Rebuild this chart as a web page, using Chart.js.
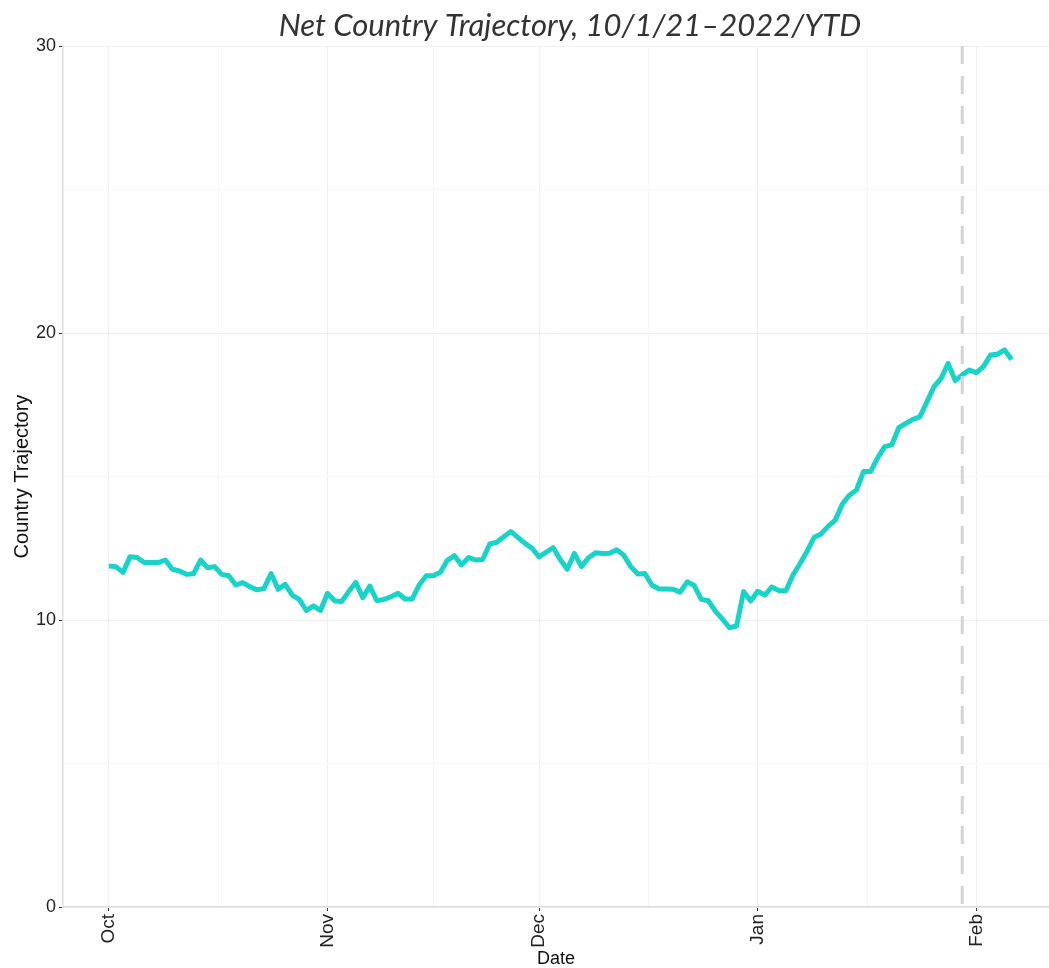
<!DOCTYPE html>
<html>
<head>
<meta charset="utf-8">
<script src="https://cdn.jsdelivr.net/npm/chart.js@4"></script>
<style>
  body { margin: 0; background: #fff; }
  #wrap { width: 1049px; height: 968px; position: relative; }
</style>
</head>
<body>
<div id="wrap"><canvas id="chart"></canvas></div>
<script>
// daily values, Oct 1 2021 (day 0) .. Feb 6 2022 (day 128)
const trajectory = [
  11.88, 11.86, 11.66, 12.20, 12.18, 12.00, 12.00, 12.00, 12.09, 11.77,
  11.71, 11.59, 11.61, 12.09, 11.82, 11.86, 11.59, 11.54, 11.22, 11.30,
  11.16, 11.05, 11.10, 11.62, 11.07, 11.24, 10.87, 10.72, 10.33, 10.49,
  10.33, 10.93, 10.67, 10.64, 10.99, 11.31, 10.78, 11.18, 10.67, 10.72,
  10.81, 10.93, 10.73, 10.73, 11.22, 11.54, 11.54, 11.66, 12.08, 12.24,
  11.92, 12.18, 12.09, 12.11, 12.65, 12.71, 12.90, 13.08, 12.88, 12.67,
  12.50, 12.20, 12.36, 12.52, 12.11, 11.77, 12.32, 11.86, 12.17, 12.34,
  12.32, 12.33, 12.45, 12.26, 11.86, 11.60, 11.62, 11.22, 11.08, 11.08,
  11.07, 10.97, 11.33, 11.20, 10.72, 10.67, 10.31, 10.03, 9.73, 9.79,
  10.99, 10.66, 11.00, 10.87, 11.15, 11.03, 11.02, 11.57, 11.97, 12.40,
  12.88, 13.00, 13.27, 13.48, 14.04, 14.35, 14.53, 15.17, 15.17, 15.65,
  16.04, 16.10, 16.70, 16.85, 16.99, 17.08, 17.61, 18.13, 18.42, 18.94,
  18.34, 18.54, 18.71, 18.62, 18.83, 19.23, 19.26, 19.41, 19.08
];
// month starts as day offsets from Oct 1
const monthDays = [0, 31, 61, 92, 123];
const monthLabels = ["Oct", "Nov", "Dec", "Jan", "Feb"];
const minorDays = [15.5, 46, 76.5, 107.5];
const yTicks = [0, 5, 10, 15, 20, 25, 30];
const markerDay = 121; // Jan 30

const points = trajectory.map((v, i) => ({ x: i, y: v }));
const xTicks = monthDays.concat(minorDays).sort((a, b) => a - b);

const overlay = {
  id: "overlay",
  afterDatasetsDraw(chart) {
    const { ctx, chartArea, scales } = chart;
    const x = scales.x.getPixelForValue(markerDay);
    ctx.save();
    ctx.strokeStyle = "#d3d3d3";
    ctx.lineWidth = 3;
    ctx.setLineDash([18, 12]);
    ctx.beginPath();
    ctx.moveTo(x, chartArea.top);
    ctx.lineTo(x, chartArea.bottom);
    ctx.stroke();
    ctx.restore();
  },
  afterDraw(chart) {
    const ctx = chart.ctx;
    ctx.save();
    ctx.fillStyle = "#333";
    ctx.font = "italic 31px Lato";
    ctx.textAlign = "center";
    ctx.textBaseline = "alphabetic";
    ctx.fillText("Net Country Trajectory, 10/1/21\u20132022/YTD", 570, 36);
    ctx.restore();
  }
};

const isMajorX = v => monthDays.includes(v);
const isMajorY = v => v % 10 === 0;

new Chart(document.getElementById("chart"), {
  type: "line",
  data: {
    datasets: [{
      data: points,
      borderColor: "#17d4c9",
      borderWidth: 5,
      pointRadius: 0,
      tension: 0,
      borderJoinStyle: "round"
    }]
  },
  options: {
    responsive: true,
    maintainAspectRatio: false,
    animation: false,
    layout: { padding: { top: 46, right: 0, bottom: 0, left: 0 } },
    plugins: { legend: { display: false }, tooltip: { enabled: false }, title: { display: false } },
    scales: {
      x: {
        type: "linear",
        min: -6.5,
        max: 133.3,
        afterBuildTicks: s => { s.ticks = xTicks.map(v => ({ value: v })); },
        afterFit: s => { s.height = 61; },
        ticks: {
          autoSkip: false,
          minRotation: 90,
          maxRotation: 90,
          padding: 3,
          color: "#222",
          font: { family: "Liberation Sans", size: 19 },
          callback: v => { const i = monthDays.indexOf(v); return i >= 0 ? monthLabels[i] : ""; }
        },
        grid: {
          color: c => isMajorX(c.tick.value) ? "#efefef" : "#f7f7f7",
          tickColor: c => isMajorX(c.tick.value) ? "#333" : "rgba(0,0,0,0)",
          tickLength: 4,
          lineWidth: 1
        },
        border: { display: true, color: "#dedede", width: 1.5 },
        title: {
          display: true,
          text: "Date",
          color: "#111",
          font: { family: "Liberation Sans", size: 18, lineHeight: 1 },
          padding: { top: 0, bottom: 0 }
        }
      },
      y: {
        min: 0,
        max: 30,
        afterBuildTicks: s => { s.ticks = yTicks.map(v => ({ value: v })); },
        afterFit: s => { s.width = 63; },
        ticks: {
          padding: 3,
          color: "#222",
          font: { family: "Liberation Sans", size: 18 },
          callback: v => isMajorY(v) ? String(v) : ""
        },
        grid: {
          color: c => isMajorY(c.tick.value) ? "#efefef" : "#f7f7f7",
          tickColor: c => isMajorY(c.tick.value) ? "#333" : "rgba(0,0,0,0)",
          tickLength: 4,
          lineWidth: 1
        },
        border: { display: true, color: "#dedede", width: 1.5 },
        title: {
          display: true,
          text: "Country Trajectory",
          color: "#111",
          font: { family: "Liberation Sans", size: 20 },
          padding: { top: 10, bottom: 0 }
        }
      }
    }
  },
  plugins: [overlay]
});
</script>
</body>
</html>
